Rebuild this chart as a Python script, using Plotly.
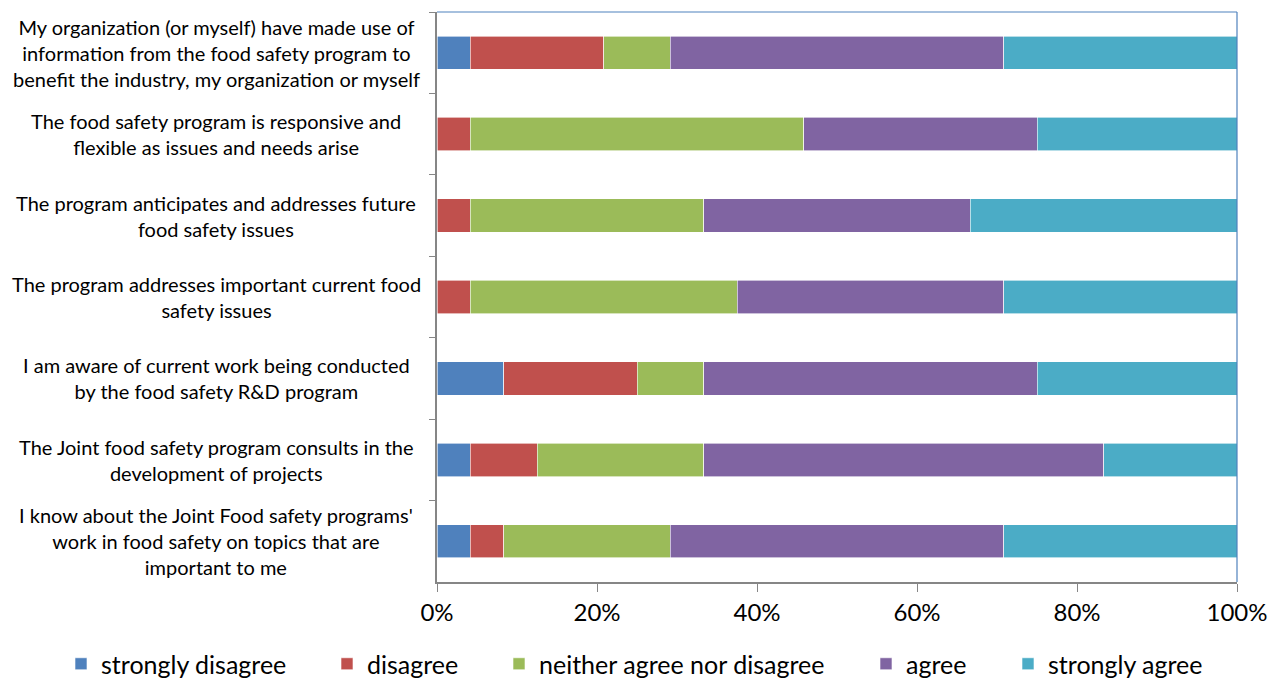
import plotly.graph_objects as go

categories = [
    "My organization (or myself) have made use of<br>information from the food safety program to<br>benefit the industry, my organization or myself",
    "The food safety program is responsive and<br>flexible as issues and needs arise",
    "The program anticipates and addresses future<br>food safety issues",
    "The program addresses important current food<br>safety issues",
    "I am aware of current work being conducted<br>by the food safety R&D program",
    "The Joint food safety program consults in the<br>development of projects",
    "I know about the Joint Food safety programs'<br>work in food safety on topics that are<br>important to me",
]
strongly_disagree = [4.17, 0, 0, 0, 8.33, 4.17, 4.17]
disagree = [16.67, 4.17, 4.17, 4.17, 16.67, 8.33, 4.17]
neither = [8.33, 41.67, 29.17, 33.33, 8.33, 20.83, 20.83]
agree = [41.67, 29.17, 33.33, 33.33, 41.67, 50.0, 41.67]
strongly_agree = [29.17, 25.0, 33.33, 29.17, 25.0, 16.67, 29.17]

series_names = ["strongly disagree", "disagree", "neither agree nor disagree",
                "agree", "strongly agree"]
series_values = [strongly_disagree, disagree, neither, agree, strongly_agree]
series_colors = ["#4F81BD", "#C0504D", "#9BBB59", "#8064A2", "#4BACC6"]
legend_x = [61, 327, 499, 866, 1008]  # pixel left of each legend entry

FONT = "Lato"
W, H = 1278, 679
fig = go.Figure()
layout_legends = {}
for i, (name, vals, col) in enumerate(zip(series_names, series_values, series_colors)):
    lname = "legend" if i == 0 else f"legend{i+1}"
    fig.add_trace(go.Bar(
        y=categories, x=[v / 100 for v in vals], name=name, orientation="h",
        marker=dict(color=col, line=dict(color="white", width=0.6)),
        legend=lname,
    ))
    layout_legends[lname] = dict(
        orientation="h", x=legend_x[i] / W, xanchor="left", xref="container",
        y=(H - 664) / H, yref="container", yanchor="middle",
        font=dict(size=25, family=FONT), itemwidth=30,
        bgcolor="rgba(0,0,0,0)",
    )

fig.update_layout(
    barmode="stack",
    bargap=0.59,
    width=W, height=H,
    margin=dict(l=437, r=41, t=12, b=97, autoexpand=False),
    plot_bgcolor="white", paper_bgcolor="white",
    font=dict(family=FONT, color="black"),
    showlegend=True,
    xaxis=dict(range=[0, 1], tickformat=".0%", dtick=0.2, showgrid=False,
               showline=True, linecolor="#868686", linewidth=1.5,
               ticks="outside", ticklen=8, tickcolor="#868686",
               tickfont=dict(size=24, family=FONT), zeroline=False),
    yaxis=dict(autorange="reversed", showticklabels=False, showgrid=False,
               showline=True, linecolor="#868686", linewidth=1.5,
               ticks="outside", ticklen=6, tickcolor="#868686",
               tickson="boundaries"),
    **layout_legends,
)

for c in categories:
    fig.add_annotation(x=-0.276, xref="paper", y=c, yref="y", text=c,
                       showarrow=False, xanchor="center", align="center",
                       font=dict(size=20, family=FONT, color="black"))

fig.add_shape(type="line", xref="paper", yref="paper", x0=0, x1=1, y0=1, y1=1,
              line=dict(color="#4F81BD", width=1.2))
fig.add_shape(type="line", xref="paper", yref="paper", x0=1, x1=1, y0=0, y1=1,
              line=dict(color="#4F81BD", width=1.2))

fig.write_html("out.html")
